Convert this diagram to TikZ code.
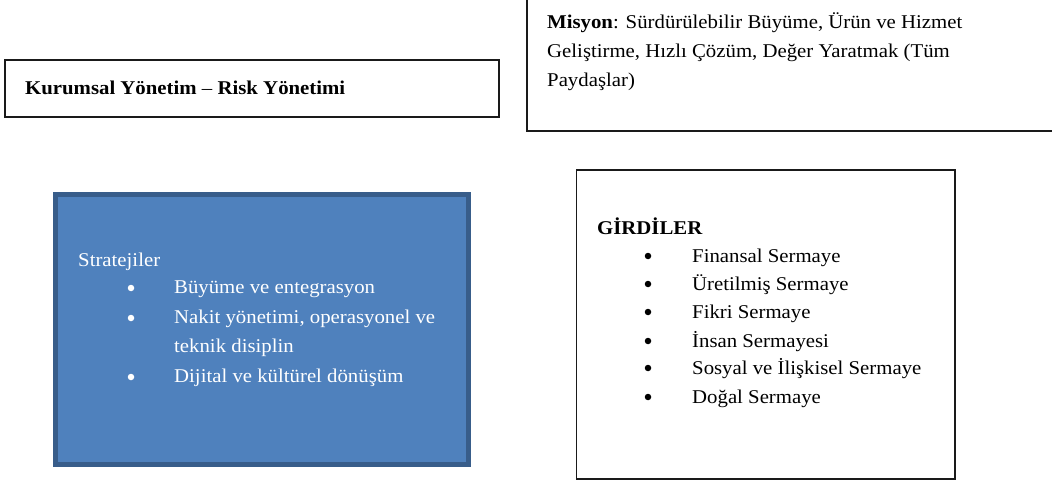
\documentclass[tikz,border=0pt]{standalone}
\usepackage{fontspec}
\setmainfont{Liberation Serif}[FakeStretch=1.066]
\definecolor{boxfill}{HTML}{4F81BD}
\definecolor{boxline}{HTML}{385D8A}
\definecolor{frame}{HTML}{1A1A1A}
\tikzset{
  txt/.style={anchor=base west, inner sep=0pt, font=\fontsize{19.5}{19.5}\selectfont},
  wtxt/.style={txt, text=white},
  plainbox/.style={draw=frame, line width=1.4pt, fill=white, inner sep=0pt, outer sep=0pt, anchor=north west},
  bluebox/.style={draw=boxline, line width=5pt, fill=boxfill, inner sep=0pt, outer sep=0pt, anchor=north west},
  dotb/.style={circle, fill=black, inner sep=0pt, minimum size=6.5pt},
  dotw/.style={circle, fill=white, inner sep=0pt, minimum size=6.5pt}
}
\begin{document}
\begin{tikzpicture}[x=1pt,y=-1pt]
\useasboundingbox (0,0) rectangle (1052,481);
% boxes
\node[plainbox, minimum width=494pt, minimum height=57pt] (kbox) at (5,60) {};
\coordinate (mtop) at (527,0);
\coordinate (mcorner) at (527,131);
\coordinate (mright) at (1052,131);
\draw[draw=frame, line width=1.4pt] (mtop) -- (mcorner) -- (mright);
\node[bluebox, minimum width=413pt, minimum height=270pt] (sbox) at (55.5,194.5) {};
\node[plainbox, minimum width=378.5pt, minimum height=309pt] (gbox) at (576.5,170) {};
% texts
\node[txt] (kur) at (25,95) {\textbf{Kurumsal Yönetim} – \textbf{Risk Yönetimi}};
\node[txt] (m1) at (547,29) {\textbf{Misyon}: Sürdürülebilir Büyüme, Ürün ve Hizmet};
\node[txt] (m2) at (547,58) {Geliştirme, Hızlı Çözüm, Değer Yaratmak (Tüm};
\node[txt] (m3) at (547,87) {Paydaşlar)};
% strategies
\node[wtxt] (s0) at (78,266) {Stratejiler};
\node[wtxt] (s1) at (174,293) {Büyüme ve entegrasyon};
\node[wtxt] (s2) at (174,323) {Nakit yönetimi, operasyonel ve};
\node[wtxt] (s2b) at (174,352) {teknik disiplin};
\node[wtxt] (s3) at (174,382) {Dijital ve kültürel dönüşüm};
\node[dotw] (bs1) at (131,288) {};
\node[dotw] (bs2) at (131,318) {};
\node[dotw] (bs3) at (131,377) {};
% inputs
\node[txt] (g0) at (597,235) {\textbf{GİRDİLER}};
\node[txt] (g1) at (692,262) {Finansal Sermaye};
\node[txt] (g2) at (692,290) {Üretilmiş Sermaye};
\node[txt] (g3) at (692,318) {Fikri Sermaye};
\node[txt] (g4) at (692,347) {İnsan Sermayesi};
\node[txt] (g5) at (692,374) {Sosyal ve İlişkisel Sermaye};
\node[txt] (g6) at (692,403) {Doğal Sermaye};
\node[dotb] (bg1) at (648,256) {};
\node[dotb] (bg2) at (648,284) {};
\node[dotb] (bg3) at (648,312) {};
\node[dotb] (bg4) at (648,341) {};
\node[dotb] (bg5) at (648,368) {};
\node[dotb] (bg6) at (648,397) {};
\end{tikzpicture}
\end{document}
